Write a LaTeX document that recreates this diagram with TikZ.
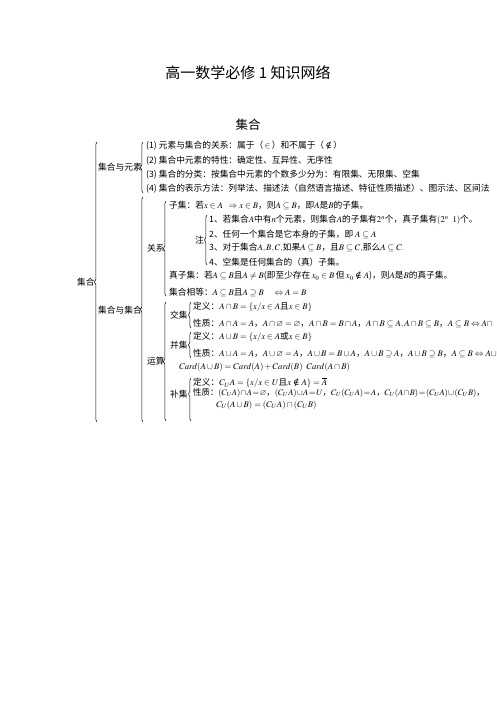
\documentclass[tikz,border=0pt]{standalone}
\usepackage{amssymb}
\usepackage{mathptmx}
\usepackage{fontspec}
\setmainfont{Liberation Serif}
\newfontfamily\cjk{Noto Sans CJK SC}
\newfontfamily\dvs{DejaVu Serif}
\newcommand\nin{\mathrel{\mbox{\dvs ∉}}}
\usetikzlibrary{decorations.pathreplacing}
\begin{document}
\begin{tikzpicture}[x=1pt,y=-1pt,
  txt/.style={anchor=west,inner sep=0pt,font=\cjk\fontsize{8.7}{10}\selectfont},
  ttl/.style={inner sep=0pt,font=\cjk\fontsize{15}{17}\selectfont},
  hd/.style={inner sep=0pt,font=\cjk\fontsize{12.5}{14}\selectfont},
  br/.style={decorate,decoration={brace,amplitude=2.5pt},line width=0.5pt}]
\useasboundingbox (0,0) rectangle (496,702);
% titles
\node[ttl] (title) at (248,73) {高一数学必修 1 知识网络};
\node[hd] (head) at (248,125) {集合};
% level 0
\node[txt] (jh) at (77,282) {集合};
\coordinate (b0s) at (97,422); \coordinate (b0e) at (97,142);
\draw[br] (b0s) -- (b0e);
% 集合与元素
\node[txt] (jy) at (98,167) {集合与元素};
\coordinate (b1s) at (143,193); \coordinate (b1e) at (143,142);
\draw[br] (b1s) -- (b1e);
\node[txt] (i1) at (146,146) {(1) 元素与集合的关系：属于（\,$\in$\,）和不属于（\,$\nin$\,）};
\node[txt] (i2) at (146,161) {(2) 集合中元素的特性：确定性、互异性、无序性};
\node[txt] (i3) at (146,175) {(3) 集合的分类：按集合中元素的个数多少分为：有限集、无限集、空集};
\node[txt] (i4) at (146,189) {(4) 集合的表示方法：列举法、描述法（自然语言描述、特征性质描述）、图示法、区间法};
% 集合与集合
\node[txt] (jj) at (98,310) {集合与集合};
\coordinate (b2s) at (143,422); \coordinate (b2e) at (143,197);
\draw[br] (b2s) -- (b2e);
% 关系
\node[txt] (gx) at (147,248) {关系};
\coordinate (b3s) at (166,296); \coordinate (b3e) at (166,201);
\draw[br] (b3s) -- (b3e);
\node[txt] (zj) at (169,205) {子集：若$x\in A\ \ \Rightarrow x\in B$，则$A\subseteq B$，即$A$是$B$的子集。};
\node[txt] (zhu) at (195,240) {注};
\coordinate (b4s) at (207,265); \coordinate (b4e) at (207,215);
\draw[br] (b4s) -- (b4e);
\node[txt] (n1) at (209,220) {1、若集合$A$中有$n$个元素，则集合$A$的子集有$2^n$个，真子集有$(2^n\ \ 1)$个。};
\node[txt] (n2) at (209,234) {2、任何一个集合是它本身的子集，即 $A\subseteq A$};
\node[txt] (n3) at (209,248) {3、对于集合$A,B,C,$如果$A\subseteq B$，且$B\subseteq C,$那么$A\subseteq C.$};
\node[txt] (n4) at (209,262) {4、空集是任何集合的（真）子集。};
\node[txt] (zzj) at (169,276) {真子集：若$A\subseteq B$且$A\neq B$(即至少存在\,$x_0\in B$\,但\,$x_0\nin A$)，则$A$是$B$的真子集。};
\node[txt] (xd) at (169,292) {集合相等：$A\subseteq B$且$A\supseteq B\quad\Leftrightarrow A=B$};
% 运算
\node[txt] (ys) at (147,361) {运算};
\coordinate (b5s) at (166,421); \coordinate (b5e) at (166,302);
\draw[br] (b5s) -- (b5e);
\node[txt] (jiao) at (170,315) {交集};
\coordinate (b6s) at (191,328); \coordinate (b6e) at (191,302);
\draw[br] (b6s) -- (b6e);
\node[txt] (jd) at (193,307) {定义：$A\cap B=\{x/x\in A$且$x\in B\}$};
\node[txt] (jp) at (193,324) {性质：$A\cap A=A$，$A\cap\varnothing=\varnothing$，$A\cap B=B\cap A$，$A\cap B\subseteq A,A\cap B\subseteq B$，$A\subseteq B\Leftrightarrow A\cap$};
\node[txt] (bing) at (170,345) {并集};
\coordinate (b7s) at (191,358); \coordinate (b7e) at (191,332);
\draw[br] (b7s) -- (b7e);
\node[txt] (bd) at (193,337) {定义：$A\cup B=\{x/x\in A$或$x\in B\}$};
\node[txt] (bp) at (193,353) {性质：$A\cup A=A$，$A\cup\varnothing=A$，$A\cup B=B\cup A$，$A\cup B\supseteq A$，$A\cup B\supseteq B$，$A\subseteq B\Leftrightarrow A\cup$};
\node[txt] (card) at (179,367) {$Card(A\cup B)=Card(A)+Card(B)\ \ Card(A\cap B)$};
\node[txt] (bu) at (170,394) {补集};
\coordinate (b8s) at (191,421); \coordinate (b8e) at (191,378);
\draw[br,decoration={aspect=0.63}] (b8s) -- (b8e);
\node[txt] (ud) at (193,383) {定义：$C_UA=\{x/x\in U$且$x\nin A\}=\overline{A}$};
\node[txt,font=\cjk\fontsize{8.4}{10}\selectfont] (up) at (193,393) {\thickmuskip=1.5mu\medmuskip=1mu 性质：$(C_UA)\cap A=\varnothing$，$(C_UA)\cup A=U$，$C_U(C_UA)=A$，$C_U(A\cap B)=(C_UA)\cup(C_UB)$，};
\node[txt] (up2) at (216,405) {$C_U(A\cup B)=(C_UA)\cap(C_UB)$};
\end{tikzpicture}
\end{document}
